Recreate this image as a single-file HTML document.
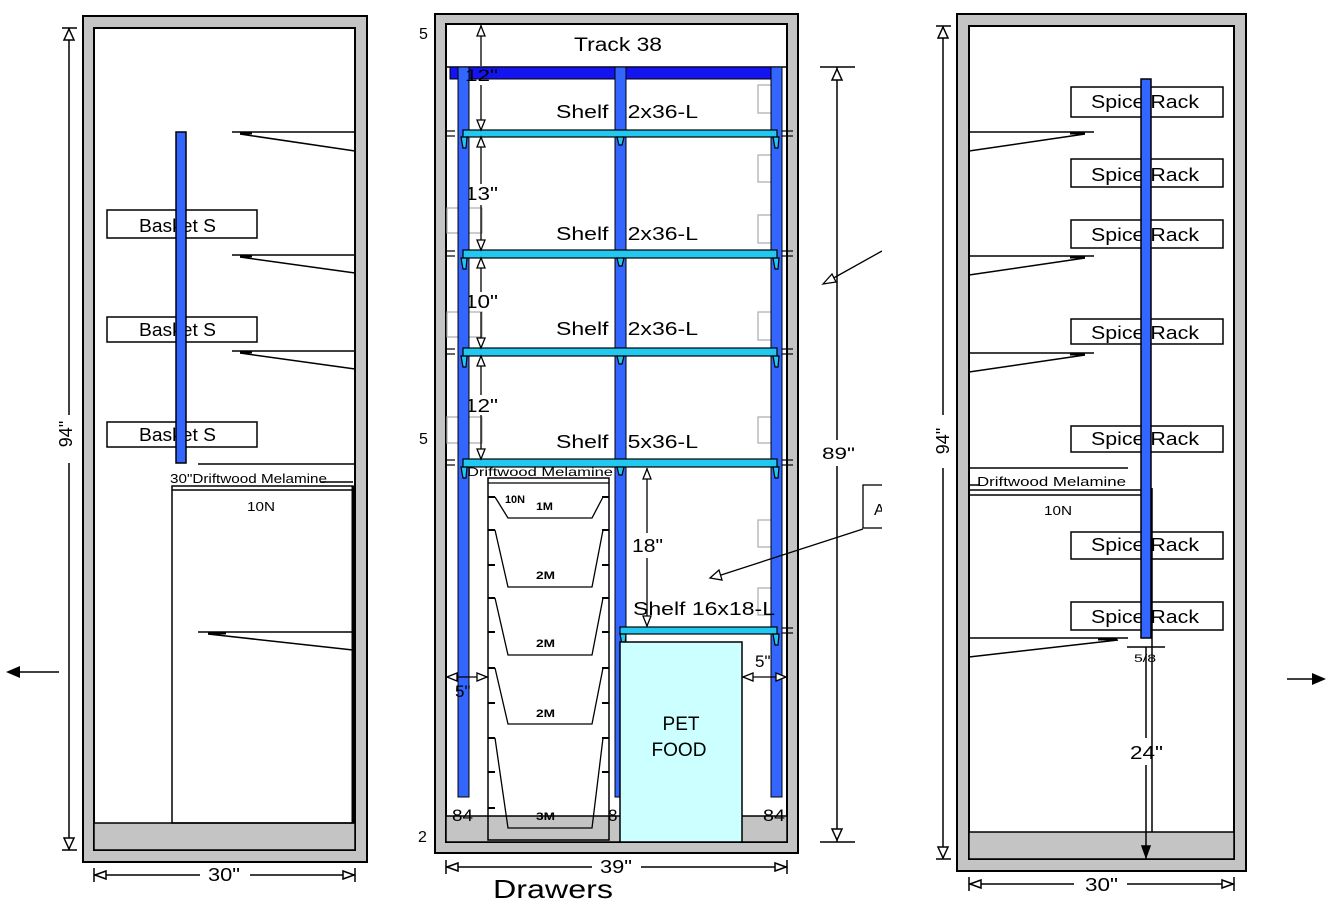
<!DOCTYPE html>
<html><head><meta charset="utf-8"><style>
html,body{margin:0;padding:0;background:#fff;}
svg{display:block;}
text{font-family:"Liberation Sans","DejaVu Sans",sans-serif;fill:#000;}
</style></head><body>
<svg width="1334" height="917" viewBox="0 0 1334 917" xmlns="http://www.w3.org/2000/svg">
<rect width="1334" height="917" fill="#fff"/>

<!-- ================= LEFT PANEL ================= -->
<rect x="83" y="16" width="284" height="846" fill="#c4c4c4" stroke="#000" stroke-width="2"/>
<rect x="94" y="28" width="261" height="822" fill="#fff" stroke="#000" stroke-width="2"/>
<rect x="94" y="823" width="261" height="27" fill="#c4c4c4" stroke="#000" stroke-width="1.5"/>

<g stroke="#000" stroke-width="1.5" fill="none">
<line x1="232" y1="132" x2="355" y2="132"/><line x1="240" y1="134" x2="355" y2="151"/>
<line x1="232" y1="255" x2="355" y2="255"/><line x1="240" y1="257" x2="355" y2="273"/>
<line x1="232" y1="351" x2="355" y2="351"/><line x1="240" y1="353" x2="355" y2="369"/>
<line x1="198" y1="632" x2="353" y2="632"/><line x1="208" y1="634" x2="353" y2="650"/>
<line x1="198" y1="464" x2="355" y2="464"/>
<line x1="320" y1="482" x2="353" y2="482"/>
</g>
<g stroke="#000" stroke-width="3">
<line x1="240" y1="133" x2="252" y2="133"/><line x1="240" y1="256" x2="252" y2="256"/><line x1="240" y1="352" x2="252" y2="352"/><line x1="208" y1="633" x2="226" y2="633"/>
</g>
<rect x="172" y="486" width="181" height="337" fill="none" stroke="#000" stroke-width="1.5"/>
<line x1="172" y1="490" x2="353" y2="490" stroke="#000" stroke-width="1.5"/>
<line x1="353" y1="486" x2="353" y2="823" stroke="#000" stroke-width="3"/>
<text x="170" y="483" font-size="13" textLength="157" lengthAdjust="spacingAndGlyphs">30"Driftwood Melamine</text>
<text x="247" y="511" font-size="13" textLength="28" lengthAdjust="spacingAndGlyphs">10N</text>

<g fill="none" stroke="#000" stroke-width="1.5">
<rect x="107" y="210" width="150" height="28"/>
<rect x="107" y="317" width="150" height="25"/>
<rect x="107" y="422" width="150" height="25"/>
</g>
<text x="139" y="232" font-size="18" textLength="77" lengthAdjust="spacingAndGlyphs">Basket S</text>
<text x="139" y="336" font-size="18" textLength="77" lengthAdjust="spacingAndGlyphs">Basket S</text>
<text x="139" y="441" font-size="18" textLength="77" lengthAdjust="spacingAndGlyphs">Basket S</text>
<rect x="176" y="132" width="10" height="331" fill="#3366ff" stroke="#000" stroke-width="1.5"/>

<g stroke="#000" stroke-width="1.5" fill="#fff">
<line x1="69" y1="28" x2="69" y2="415"/><line x1="69" y1="463" x2="69" y2="850"/>
<line x1="62" y1="28" x2="77" y2="28"/><line x1="62" y1="850" x2="77" y2="850"/>
<polygon points="69,29 64,40 74,40"/><polygon points="69,849 64,838 74,838"/>
</g>
<text transform="translate(72,434) rotate(-90)" font-size="18" text-anchor="middle">94"</text>
<g stroke="#000" stroke-width="1.5" fill="#fff">
<line x1="94" y1="875" x2="200" y2="875"/><line x1="250" y1="875" x2="355" y2="875"/>
<line x1="94" y1="868" x2="94" y2="882"/><line x1="355" y1="868" x2="355" y2="882"/>
<polygon points="95,875 106,871 106,879"/><polygon points="354,875 343,871 343,879"/>
</g>
<text x="208" y="881" font-size="18" textLength="32" lengthAdjust="spacingAndGlyphs">30"</text>
<line x1="14" y1="672" x2="59" y2="672" stroke="#000" stroke-width="1.5"/>
<polygon points="6,672 20,666 20,678" fill="#000"/>

<!-- ================= CENTER PANEL ================= -->
<rect x="435" y="14" width="363" height="839" fill="#c4c4c4" stroke="#000" stroke-width="2"/>
<rect x="446" y="24" width="341" height="818" fill="#fff" stroke="#000" stroke-width="2"/>
<rect x="446" y="816" width="341" height="26" fill="#c4c4c4" stroke="#000" stroke-width="1.5"/>
<line x1="446" y1="67" x2="787" y2="67" stroke="#000" stroke-width="1.5"/>
<text x="574" y="51" font-size="19" textLength="88" lengthAdjust="spacingAndGlyphs">Track 38</text>

<g fill="none" stroke="#aaa" stroke-width="1.2">
<rect x="758" y="85" width="16" height="28"/><rect x="758" y="155" width="16" height="27"/>
<rect x="758" y="215" width="16" height="28"/><rect x="758" y="312" width="16" height="28"/>
<rect x="758" y="417" width="16" height="26"/><rect x="758" y="520" width="16" height="27"/>
<rect x="758" y="588" width="16" height="27"/>
<rect x="447" y="208" width="35" height="25"/><rect x="447" y="312" width="35" height="25"/>
<rect x="447" y="417" width="35" height="26"/>
</g>

<!-- labels beneath bars -->
<text x="556" y="118" font-size="18" textLength="142" lengthAdjust="spacingAndGlyphs">Shelf 12x36-L</text>
<text x="556" y="240" font-size="18" textLength="142" lengthAdjust="spacingAndGlyphs">Shelf 12x36-L</text>
<text x="556" y="335" font-size="18" textLength="142" lengthAdjust="spacingAndGlyphs">Shelf 12x36-L</text>
<text x="556" y="448" font-size="18" textLength="142" lengthAdjust="spacingAndGlyphs">Shelf 15x36-L</text>
<text x="465" y="200" font-size="18" textLength="33" lengthAdjust="spacingAndGlyphs">13"</text>
<text x="465" y="308" font-size="18" textLength="33" lengthAdjust="spacingAndGlyphs">10"</text>
<text x="465" y="412" font-size="18" textLength="33" lengthAdjust="spacingAndGlyphs">12"</text>

<rect x="450" y="67" width="332" height="12" fill="#1414f0" stroke="#000" stroke-width="1"/>
<rect x="458" y="67" width="11" height="730" fill="#3366ff" stroke="#000" stroke-width="1"/>
<rect x="615" y="67" width="11" height="730" fill="#3366ff" stroke="#000" stroke-width="1"/>
<rect x="771" y="67" width="11" height="730" fill="#3366ff" stroke="#000" stroke-width="1"/>
<text x="465" y="81" font-size="17" textLength="33" lengthAdjust="spacingAndGlyphs">12"</text>

<g stroke="#000" stroke-width="1.2">
<line x1="447" y1="131" x2="455" y2="131"/><line x1="447" y1="136" x2="455" y2="136"/>
<line x1="447" y1="251" x2="455" y2="251"/><line x1="447" y1="256" x2="455" y2="256"/>
<line x1="447" y1="349" x2="455" y2="349"/><line x1="447" y1="354" x2="455" y2="354"/>
<line x1="447" y1="460" x2="455" y2="460"/><line x1="447" y1="465" x2="455" y2="465"/>
<line x1="782" y1="131" x2="793" y2="131"/><line x1="782" y1="136" x2="793" y2="136"/>
<line x1="782" y1="251" x2="793" y2="251"/><line x1="782" y1="256" x2="793" y2="256"/>
<line x1="782" y1="349" x2="793" y2="349"/><line x1="782" y1="354" x2="793" y2="354"/>
<line x1="782" y1="460" x2="793" y2="460"/><line x1="782" y1="465" x2="793" y2="465"/>
<line x1="782" y1="628" x2="793" y2="628"/><line x1="782" y1="633" x2="793" y2="633"/>
</g>

<g fill="#22c8f0" stroke="#000" stroke-width="1.2">
<rect x="463" y="130" width="314" height="7"/>
<rect x="463" y="250" width="314" height="8"/>
<rect x="463" y="348" width="314" height="8"/>
<rect x="463" y="459" width="314" height="8"/>
<rect x="620" y="627" width="157" height="7"/>
<polygon points="461,137 467,137 466,148 463,148"/><polygon points="617,137 624,137 622,145 619,145"/><polygon points="773,137 779,137 778,148 775,148"/>
<polygon points="461,258 467,258 466,269 463,269"/><polygon points="617,258 624,258 622,266 619,266"/><polygon points="773,258 779,258 778,269 775,269"/>
<polygon points="461,356 467,356 466,367 463,367"/><polygon points="617,356 624,356 622,364 619,364"/><polygon points="773,356 779,356 778,367 775,367"/>
<polygon points="461,467 467,467 466,478 463,478"/><polygon points="617,467 624,467 622,475 619,475"/><polygon points="773,467 779,467 778,478 775,478"/>
<polygon points="620,634 626,634 625,645 622,645"/><polygon points="773,634 779,634 778,645 775,645"/>
</g>
<text x="633" y="615" font-size="18" textLength="142" lengthAdjust="spacingAndGlyphs">Shelf 16x18-L</text>
<text x="467" y="476" font-size="12" textLength="146" lengthAdjust="spacingAndGlyphs">Driftwood Melamine</text>

<g stroke="#000" stroke-width="1.3" fill="#fff">
<line x1="481" y1="24" x2="481" y2="66"/>
<line x1="481" y1="85" x2="481" y2="130"/>
<line x1="481" y1="137" x2="481" y2="184"/><line x1="481" y1="205" x2="481" y2="250"/>
<line x1="481" y1="258" x2="481" y2="292"/><line x1="481" y1="312" x2="481" y2="348"/>
<line x1="481" y1="356" x2="481" y2="395"/><line x1="481" y1="415" x2="481" y2="459"/>
<polygon points="481,26 477,36 485,36"/>
<polygon points="481,130 477,120 485,120"/><polygon points="481,137 477,147 485,147"/>
<polygon points="481,250 477,240 485,240"/><polygon points="481,258 477,268 485,268"/>
<polygon points="481,348 477,338 485,338"/><polygon points="481,356 477,366 485,366"/>
<polygon points="481,459 477,449 485,449"/>
</g>

<g stroke="#000" stroke-width="1.3" fill="#fff">
<line x1="647" y1="468" x2="647" y2="533"/><line x1="647" y1="558" x2="647" y2="627"/>
<polygon points="647,469 643,479 651,479"/><polygon points="647,626 643,616 651,616"/>
</g>
<text x="632" y="552" font-size="18" textLength="31" lengthAdjust="spacingAndGlyphs">18"</text>

<rect x="488" y="478" width="121" height="362" fill="none" stroke="#000" stroke-width="1.5"/>
<line x1="488" y1="483" x2="609" y2="483" stroke="#000" stroke-width="1.3"/>
<g fill="none" stroke="#000" stroke-width="1.3">
<polyline points="495,497 508,518 592,518 603,497"/>
<polyline points="495,530 508,587 592,587 603,530"/>
<polyline points="495,598 508,655 592,655 603,598"/>
<polyline points="495,668 508,724 592,724 603,668"/>
<polyline points="495,738 508,828 592,828 603,738"/>
</g>
<g stroke="#000" stroke-width="2">
<line x1="488" y1="497" x2="495" y2="497"/><line x1="488" y1="530" x2="495" y2="530"/><line x1="488" y1="565" x2="495" y2="565"/>
<line x1="488" y1="598" x2="495" y2="598"/><line x1="488" y1="632" x2="495" y2="632"/><line x1="488" y1="668" x2="495" y2="668"/>
<line x1="488" y1="703" x2="495" y2="703"/><line x1="488" y1="738" x2="495" y2="738"/><line x1="488" y1="772" x2="495" y2="772"/><line x1="488" y1="808" x2="495" y2="808"/>
<line x1="602" y1="497" x2="609" y2="497"/><line x1="602" y1="530" x2="609" y2="530"/><line x1="602" y1="565" x2="609" y2="565"/>
<line x1="602" y1="598" x2="609" y2="598"/><line x1="602" y1="632" x2="609" y2="632"/><line x1="602" y1="668" x2="609" y2="668"/>
<line x1="602" y1="703" x2="609" y2="703"/><line x1="602" y1="738" x2="609" y2="738"/><line x1="602" y1="772" x2="609" y2="772"/>
</g>
<text x="505" y="503" font-size="11" font-weight="bold" textLength="20" lengthAdjust="spacingAndGlyphs">10N</text>
<text x="536" y="510" font-size="11" font-weight="bold" textLength="17" lengthAdjust="spacingAndGlyphs">1M</text>
<text x="536" y="579" font-size="11" font-weight="bold" textLength="19" lengthAdjust="spacingAndGlyphs">2M</text>
<text x="536" y="647" font-size="11" font-weight="bold" textLength="19" lengthAdjust="spacingAndGlyphs">2M</text>
<text x="536" y="717" font-size="11" font-weight="bold" textLength="19" lengthAdjust="spacingAndGlyphs">2M</text>
<text x="536" y="820" font-size="11" font-weight="bold" textLength="19" lengthAdjust="spacingAndGlyphs">3M</text>

<rect x="620" y="642" width="122" height="200" fill="#ccffff" stroke="#000" stroke-width="1.5"/>
<text x="681" y="730" font-size="19" text-anchor="middle">PET</text>
<text x="679" y="756" font-size="19" text-anchor="middle" textLength="55" lengthAdjust="spacingAndGlyphs">FOOD</text>

<g stroke="#000" stroke-width="1.3" fill="#fff">
<line x1="446" y1="677" x2="488" y2="677"/><line x1="742" y1="677" x2="787" y2="677"/>
<polygon points="447,677 457,673 457,681"/><polygon points="487,677 477,673 477,681"/>
<polygon points="743,677 753,673 753,681"/><polygon points="786,677 776,673 776,681"/>
</g>
<text x="455" y="697" font-size="17">5"</text>
<text x="755" y="667" font-size="17">5"</text>

<text x="452" y="821" font-size="17" textLength="21" lengthAdjust="spacingAndGlyphs">84</text>
<text x="763" y="821" font-size="17" textLength="22" lengthAdjust="spacingAndGlyphs">84</text>
<text x="608" y="821" font-size="17">8</text>

<g stroke="#000" stroke-width="1.5" fill="#fff">
<line x1="837" y1="67" x2="837" y2="440"/><line x1="837" y1="466" x2="837" y2="842"/>
<line x1="820" y1="67" x2="855" y2="67"/><line x1="820" y1="842" x2="855" y2="842"/>
<polygon points="837,69 832,80 842,80"/><polygon points="837,840 832,829 842,829"/>
</g>
<text x="822" y="459" font-size="17" textLength="33" lengthAdjust="spacingAndGlyphs">89"</text>

<g stroke="#000" stroke-width="1.3" fill="#fff">
<line x1="882" y1="251" x2="830" y2="280"/>
<polygon points="823,284 832,274 836,282"/>
<rect x="863" y="485" width="40" height="43"/>
<line x1="863" y1="529" x2="718" y2="576"/>
<polygon points="710,578 719,570 722,580"/>
</g>
<text x="874" y="515" font-size="16">A</text>

<g stroke="#000" stroke-width="1.5" fill="#fff">
<line x1="446" y1="867" x2="592" y2="867"/><line x1="641" y1="867" x2="787" y2="867"/>
<line x1="446" y1="860" x2="446" y2="874"/><line x1="787" y1="860" x2="787" y2="874"/>
<polygon points="447,867 458,863 458,871"/><polygon points="786,867 775,863 775,871"/>
</g>
<text x="600" y="873" font-size="18" textLength="32" lengthAdjust="spacingAndGlyphs">39"</text>
<text x="493" y="898" font-size="26" textLength="120" lengthAdjust="spacingAndGlyphs">Drawers</text>

<text x="419" y="39" font-size="16">5</text>
<text x="419" y="444" font-size="16">5</text>
<text x="418" y="842" font-size="16">2</text>

<rect x="882" y="0" width="72" height="917" fill="#fff"/>

<!-- ================= RIGHT PANEL ================= -->
<rect x="957" y="14" width="289" height="857" fill="#c4c4c4" stroke="#000" stroke-width="2"/>
<rect x="969" y="26" width="265" height="833" fill="#fff" stroke="#000" stroke-width="2"/>
<rect x="969" y="832" width="265" height="27" fill="#c4c4c4" stroke="#000" stroke-width="1.5"/>

<g stroke="#000" stroke-width="1.5" fill="none">
<line x1="969" y1="132" x2="1094" y2="132"/><line x1="969" y1="151" x2="1085" y2="134"/>
<line x1="969" y1="256" x2="1094" y2="256"/><line x1="969" y1="275" x2="1085" y2="258"/>
<line x1="969" y1="353" x2="1094" y2="353"/><line x1="969" y1="372" x2="1085" y2="355"/>
<line x1="969" y1="638" x2="1128" y2="638"/><line x1="969" y1="657" x2="1118" y2="640"/>
<line x1="969" y1="468" x2="1128" y2="468"/>
<line x1="969" y1="490" x2="1141" y2="490"/><line x1="969" y1="495" x2="1141" y2="495"/>
<line x1="969" y1="485" x2="980" y2="485"/>
<line x1="1152" y1="488" x2="1152" y2="832"/>
</g>
<g stroke="#000" stroke-width="3">
<line x1="1070" y1="133" x2="1085" y2="133"/><line x1="1070" y1="257" x2="1085" y2="257"/><line x1="1070" y1="354" x2="1085" y2="354"/><line x1="1098" y1="639" x2="1117" y2="639"/>
</g>
<text x="977" y="486" font-size="13" textLength="149" lengthAdjust="spacingAndGlyphs">Driftwood Melamine</text>
<text x="1044" y="515" font-size="13" textLength="28" lengthAdjust="spacingAndGlyphs">10N</text>

<g fill="none" stroke="#000" stroke-width="1.5">
<rect x="1071" y="87" width="152" height="30"/>
<rect x="1071" y="159" width="152" height="28"/>
<rect x="1071" y="220" width="152" height="28"/>
<rect x="1071" y="319" width="152" height="25"/>
<rect x="1071" y="426" width="152" height="26"/>
<rect x="1071" y="532" width="152" height="27"/>
<rect x="1071" y="602" width="152" height="28"/>
</g>
<text x="1091" y="108" font-size="18" textLength="108" lengthAdjust="spacingAndGlyphs">Spice Rack</text>
<text x="1091" y="181" font-size="18" textLength="108" lengthAdjust="spacingAndGlyphs">Spice Rack</text>
<text x="1091" y="241" font-size="18" textLength="108" lengthAdjust="spacingAndGlyphs">Spice Rack</text>
<text x="1091" y="339" font-size="18" textLength="108" lengthAdjust="spacingAndGlyphs">Spice Rack</text>
<text x="1091" y="445" font-size="18" textLength="108" lengthAdjust="spacingAndGlyphs">Spice Rack</text>
<text x="1091" y="551" font-size="18" textLength="108" lengthAdjust="spacingAndGlyphs">Spice Rack</text>
<text x="1091" y="623" font-size="18" textLength="108" lengthAdjust="spacingAndGlyphs">Spice Rack</text>
<rect x="1141" y="79" width="10" height="559" fill="#3366ff" stroke="#000" stroke-width="1.5"/>

<g stroke="#000" stroke-width="1.5" fill="#fff">
<line x1="1127" y1="647" x2="1165" y2="647"/>
<line x1="1146" y1="647" x2="1146" y2="738"/><line x1="1146" y1="765" x2="1146" y2="859"/>
<polygon points="1146,857 1142,846 1150,846" fill="#000"/>
</g>
<text x="1134" y="662" font-size="11" textLength="22" lengthAdjust="spacingAndGlyphs">5/8</text>
<text x="1130" y="759" font-size="18" textLength="33" lengthAdjust="spacingAndGlyphs">24"</text>

<g stroke="#000" stroke-width="1.5" fill="#fff">
<line x1="943" y1="26" x2="943" y2="415"/><line x1="943" y1="468" x2="943" y2="859"/>
<line x1="936" y1="26" x2="951" y2="26"/><line x1="936" y1="859" x2="951" y2="859"/>
<polygon points="943,27 938,38 948,38"/><polygon points="943,858 938,847 948,847"/>
</g>
<text transform="translate(949,441) rotate(-90)" font-size="18" text-anchor="middle">94"</text>

<g stroke="#000" stroke-width="1.5" fill="#fff">
<line x1="969" y1="884" x2="1074" y2="884"/><line x1="1127" y1="884" x2="1234" y2="884"/>
<line x1="969" y1="877" x2="969" y2="891"/><line x1="1234" y1="877" x2="1234" y2="891"/>
<polygon points="970,884 981,880 981,888"/><polygon points="1233,884 1222,880 1222,888"/>
</g>
<text x="1085" y="891" font-size="18" textLength="33" lengthAdjust="spacingAndGlyphs">30"</text>

<line x1="1287" y1="679" x2="1318" y2="679" stroke="#000" stroke-width="1.5"/>
<polygon points="1326,679 1312,673 1312,685" fill="#000"/>
</svg>
</body></html>
